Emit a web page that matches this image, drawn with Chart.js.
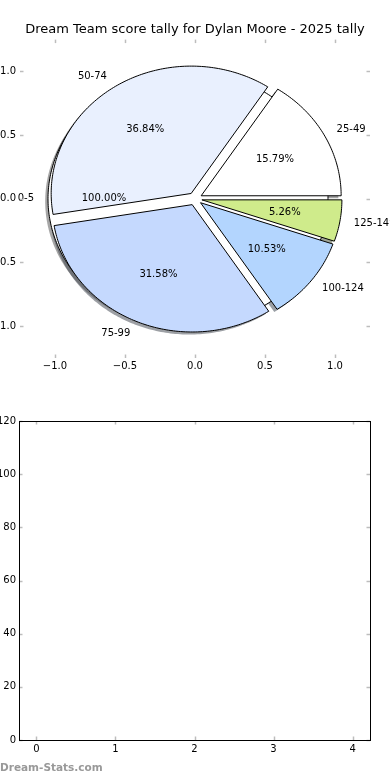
<!DOCTYPE html>
<html>
<head>
<meta charset="utf-8">
<script src="https://cdn.jsdelivr.net/npm/chart.js@4"></script>
<style>
  html, body { margin: 0; padding: 0; background: #fff; }
  body { width: 390px; height: 780px; position: relative; overflow: hidden; }
  .box { position: absolute; left: 0; width: 390px; height: 390px; }
  #pieBox { top: 0; }
  #emptyBox { top: 390px; }
  #mark { position: absolute; left: 0; top: 761px; font: bold 10.5px "DejaVu Sans", sans-serif; line-height: 13px; color: #999; }
</style>
</head>
<body>
<div class="box" id="pieBox"><canvas id="pie"></canvas></div>
<div class="box" id="emptyBox"><canvas id="empty"></canvas></div>
<div id="mark">Dream-Stats.com</div>
<script>
const title = "Dream Team score tally for Dylan Moore - 2025 tally";

// the 0-5 bucket sits underneath as its own full pie
const baseLabels = ["0-5"];
const baseValues = [1];
const baseColors = ["#ffffff"];

const bucketLabels = ["25-49", "50-74", "75-99", "100-124", "125-149"];
const bucketValues = [3, 7, 6, 2, 1];
const bucketColors = ["#ffffff", "#e9f0fe", "#c5d9fe", "#b3d5fe", "#cfeb8b"];

const pieTicks = [-1, -0.5, 0, 0.5, 1];
const barXTicks = [0, 1, 2, 3, 4];
const barYTicks = [0, 20, 40, 60, 80, 100, 120];

const explode = 0.05;
const font10 = { family: "DejaVu Sans", size: 10 };

function wedges(values, labels, colors) {
  const total = values.reduce((a, b) => a + b, 0);
  let start = 0;
  return values.map((v, i) => {
    const span = 360 * v / total;
    const mid = (start + span / 2) * Math.PI / 180;
    const w = {
      label: labels[i], color: colors[i], frac: v / total,
      a1: start, a2: start + span, mid,
      cx: explode * Math.cos(mid), cy: explode * Math.sin(mid)
    };
    start += span;
    return w;
  });
}

const layers = [
  wedges(baseValues, baseLabels, baseColors),
  wedges(bucketValues, bucketLabels, bucketColors)
].flat();

function shade(hex) {
  const n = parseInt(hex.slice(1), 16);
  const r = Math.round(((n >> 16) & 255) * 0.3);
  const g = Math.round(((n >> 8) & 255) * 0.3);
  const b = Math.round((n & 255) * 0.3);
  return `rgba(${r},${g},${b},0.5)`;
}

function wedgePath(ctx, xs, ys, w, dx, dy) {
  const cx = w.cx + dx, cy = w.cy + dy;
  const full = w.a2 - w.a1 >= 359.999;
  const n = Math.max(8, Math.ceil(w.a2 - w.a1));
  ctx.beginPath();
  if (!full) ctx.moveTo(xs.getPixelForValue(cx), ys.getPixelForValue(cy));
  for (let k = 0; k <= n; k++) {
    const a = (w.a1 + (w.a2 - w.a1) * k / n) * Math.PI / 180;
    const x = xs.getPixelForValue(cx + Math.cos(a));
    const y = ys.getPixelForValue(cy + Math.sin(a));
    if (full && k === 0) ctx.moveTo(x, y); else ctx.lineTo(x, y);
  }
  ctx.closePath();
}

const piePlugin = {
  id: "pieWedges",
  beforeDatasetsDraw(chart) {
    const ctx = chart.ctx, xs = chart.scales.x, ys = chart.scales.y;
    ctx.save();
    ctx.lineWidth = 1;
    ctx.lineJoin = "round";
    // shadows first, under everything
    layers.forEach(w => {
      wedgePath(ctx, xs, ys, w, -0.02, -0.02);
      ctx.fillStyle = shade(w.color);
      ctx.fill();
    });
    layers.forEach(w => {
      wedgePath(ctx, xs, ys, w, 0, 0);
      ctx.fillStyle = w.color;
      ctx.strokeStyle = "#000";
      ctx.fill();
      ctx.stroke();
    });
    ctx.fillStyle = "#000";
    ctx.font = "10px 'DejaVu Sans'";
    ctx.textBaseline = "middle";
    layers.forEach(w => {
      const c = Math.cos(w.mid), s = Math.sin(w.mid);
      const lx = w.cx + 1.1 * c, ly = w.cy + 1.1 * s;
      ctx.textAlign = lx > 0 ? "left" : "right";
      ctx.fillText(w.label, xs.getPixelForValue(lx), ys.getPixelForValue(ly));
      ctx.textAlign = "center";
      ctx.fillText((w.frac * 100).toFixed(2) + "%",
        xs.getPixelForValue(w.cx + 0.6 * c), ys.getPixelForValue(w.cy + 0.6 * s));
    });
    ctx.restore();
  }
};

// matplotlib-style ticks pointing inwards on all four sides
const innerTicks = {
  id: "innerTicks",
  afterDraw(chart, args, opts) {
    const { ctx, chartArea: a, scales: { x, y } } = chart;
    const seg = (x1, y1, x2, y2) => { ctx.beginPath(); ctx.moveTo(x1, y1); ctx.lineTo(x2, y2); ctx.stroke(); };
    ctx.save();
    ctx.strokeStyle = "#bdbdbd";
    ctx.lineWidth = 1.5;
    x.ticks.forEach(t => {
      const p = Math.round(x.getPixelForValue(t.value)) + 0.5;
      seg(p, a.top, p, a.top + 3.5);
      seg(p, a.bottom, p, a.bottom - 3.5);
    });
    y.ticks.forEach(t => {
      const p = Math.round(y.getPixelForValue(t.value)) + 0.5;
      seg(a.left, p, a.left + 3.5, p);
      seg(a.right, p, a.right - 3.5, p);
    });
    if (opts.frame) {
      ctx.strokeStyle = "#000";
      ctx.lineWidth = 1;
      const l = Math.round(a.left) + 0.5, t = Math.round(a.top) + 0.5;
      ctx.strokeRect(l, t, Math.round(a.right) - Math.round(a.left), Math.round(a.bottom) - Math.round(a.top));
    }
    ctx.restore();
  }
};

const fmtPie = v => (v < 0 ? "\u2212" : "") + Math.abs(v).toFixed(1);
const noGrid = { display: false, drawTicks: false };

new Chart(document.getElementById("pie"), {
  type: "scatter",
  data: { datasets: [] },
  options: {
    responsive: true,
    maintainAspectRatio: false,
    animation: false,
    layout: { padding: { left: 0, right: 20, top: 0, bottom: 0 } },
    plugins: {
      legend: { display: false },
      tooltip: { enabled: false },
      title: {
        display: true, text: title, fullSize: false, color: "#000",
        font: { family: "DejaVu Sans", size: 13, weight: "normal" },
        padding: { top: 22, bottom: 2 }
      },
      innerTicks: { frame: false }
    },
    scales: {
      x: {
        type: "linear", min: -1.25, max: 1.25,
        afterBuildTicks: s => { s.ticks = pieTicks.map(v => ({ value: v })); },
        afterFit: s => { s.height = 32; },
        grid: noGrid, border: { display: false },
        ticks: { padding: 2, color: "#000", font: font10, autoSkip: false, maxRotation: 0, callback: fmtPie }
      },
      y: {
        type: "linear", min: -1.25, max: 1.25,
        afterBuildTicks: s => { s.ticks = pieTicks.map(v => ({ value: v })); },
        afterFit: s => { s.width = 20; },
        grid: noGrid, border: { display: false },
        ticks: { padding: 4, color: "#000", font: font10, autoSkip: false, callback: fmtPie }
      }
    }
  },
  plugins: [piePlugin, innerTicks]
});

new Chart(document.getElementById("empty"), {
  type: "scatter",
  data: { datasets: [] },
  options: {
    responsive: true,
    maintainAspectRatio: false,
    animation: false,
    layout: { padding: { left: 0, right: 20, top: 31, bottom: 0 } },
    plugins: {
      legend: { display: false },
      tooltip: { enabled: false },
      innerTicks: { frame: true }
    },
    scales: {
      x: {
        type: "linear", min: -0.22, max: 4.22,
        afterBuildTicks: s => { s.ticks = barXTicks.map(v => ({ value: v })); },
        afterFit: s => { s.height = 40; },
        grid: noGrid, border: { display: false },
        ticks: { padding: 3, color: "#000", font: font10, autoSkip: false, maxRotation: 0, callback: v => String(v) }
      },
      y: {
        type: "linear", min: 0, max: 120,
        afterBuildTicks: s => { s.ticks = barYTicks.map(v => ({ value: v })); },
        afterFit: s => { s.width = 19; },
        grid: noGrid, border: { display: false },
        ticks: { padding: 3, color: "#000", font: font10, autoSkip: false, callback: v => String(v) }
      }
    }
  },
  plugins: [innerTicks]
});
</script>
</body>
</html>
